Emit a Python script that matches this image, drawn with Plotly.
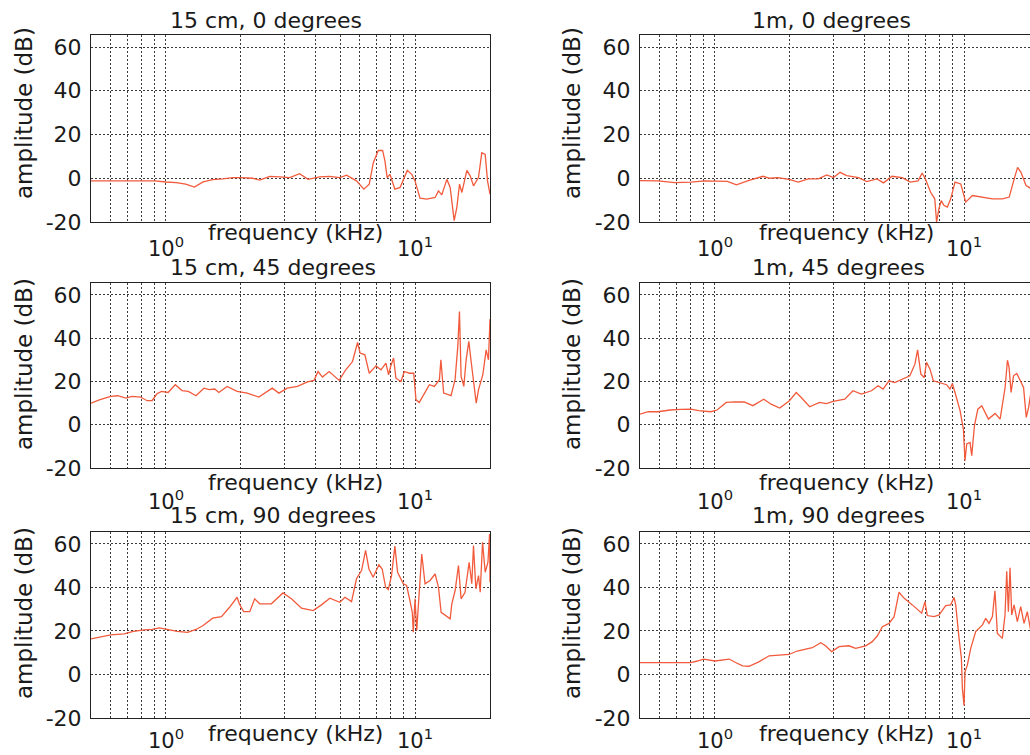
import numpy as np
import plotly.graph_objects as go

W, H = 1030, 755

# ---------------- data (frequency in kHz, amplitude in dB) ----------------
f_15cm_0 = [0.50, 0.60, 0.70, 0.80, 0.90, 1.00, 1.10, 1.20, 1.30, 1.41, 1.54, 1.69, 1.86, 2.00, 2.23,
            2.38, 2.61, 2.86, 3.14, 3.44, 3.72, 4.14, 4.55, 4.99, 5.31, 5.82, 6.23, 6.55, 6.80, 7.12,
            7.41, 7.57, 7.73, 7.93, 8.30, 8.71, 9.31, 9.70, 10.0, 10.47, 11.14, 12.04, 12.42, 12.81, 13.42,
            13.84, 14.36, 14.72, 15.09, 15.42, 15.75, 16.15, 16.65, 17.17, 17.98, 18.54, 19.13, 19.55, 20.0]
a_15cm_0 = [-1.2, -1.2, -1.2, -1.2, -1.2, -1.7, -2.0, -2.7, -4.0, -1.7, -0.6, -0.3, 0.3, 0.3, 0.0,
            -0.8, 0.9, 0.6, 0.3, 2.1, -0.5, 0.6, 0.9, 0.3, 1.4, -1.2, -5.0, -2.7, 7.1, 12.7,
            12.7, 7.9, 0.3, 1.8, -5.0, -4.2, 3.6, 1.8, -1.2, -9.1, -9.5, -8.8, -5.8, -7.6, -0.5,
            -4.2, -19.4, -13.3, -2.7, -6.5, -2.0, 3.6, 1.1, -3.5, 0.3, 11.7, 10.9, -1.2, -7.3]

f_1m_0 = [0.50, 0.59, 0.69, 0.80, 0.91, 1.02, 1.12, 1.22, 1.36, 1.56, 1.66, 1.79, 2.00, 2.16, 2.37,
          2.60, 2.81, 2.99, 3.18, 3.38, 3.77, 4.07, 4.47, 4.75, 5.14, 5.64, 6.09, 6.54, 6.79, 7.00,
          7.34, 7.63, 7.76, 7.93, 8.10, 8.30, 8.57, 8.84, 9.20, 9.70, 10.16, 10.81, 11.86, 13.0, 14.28,
          15.19, 15.77, 16.41, 16.93, 17.74, 18.65, 20.0]
a_1m_0 = [-1.1, -1.2, -2.0, -1.8, -1.2, -1.2, -1.4, -3.0, -1.1, 0.9, 0.0, 0.3, -0.6, -1.8, -0.3,
          -0.3, 1.5, 0.3, 2.7, 1.2, 0.3, -1.5, -0.3, -2.1, 0.9, 0.3, -1.8, -1.2, 2.4, -0.3,
          -6.4, -9.4, -20.0, -13.9, -10.2, -12.4, -13.2, -9.4, -1.8, -2.6, -10.9, -7.9, -8.6, -9.4, -9.4,
          -8.6, -1.8, 5.0, 2.7, -3.3, -4.8, -8.0]

f_15cm_45 = [0.50, 0.54, 0.60, 0.64, 0.69, 0.73, 0.79, 0.84, 0.88, 0.92, 0.96, 1.02, 1.09, 1.16, 1.23,
             1.32, 1.42, 1.49, 1.57, 1.63, 1.76, 1.93, 2.12, 2.36, 2.67, 2.84, 3.07, 3.37, 3.70, 3.93,
             4.08, 4.25, 4.52, 4.96, 5.27, 5.61, 5.88, 6.02, 6.29, 6.55, 6.97, 7.30, 7.64, 7.83, 7.98,
             8.20, 8.38, 8.78, 9.06, 9.49, 9.88, 10.09, 10.40, 10.90, 11.42, 11.96, 12.53, 12.70, 13.03, 13.95,
             14.48, 14.85, 15.08, 15.31, 15.70, 16.04, 16.44, 16.80, 17.32, 17.61, 17.99, 18.72, 19.30, 19.72, 20.0]
a_15cm_45 = [10.0, 11.5, 13.1, 13.4, 12.3, 13.1, 12.8, 11.1, 11.2, 14.3, 15.4, 14.9, 18.5, 15.8, 15.4,
             13.4, 16.9, 16.2, 16.5, 14.9, 17.7, 15.4, 14.6, 12.8, 16.9, 14.6, 16.9, 17.7, 19.8, 20.5,
             24.6, 22.0, 24.6, 20.5, 25.4, 29.2, 38.0, 33.1, 32.3, 23.8, 27.2, 25.4, 28.5, 23.1, 26.9,
             30.8, 21.5, 20.0, 24.6, 23.8, 23.8, 11.5, 10.3, 14.3, 18.5, 17.7, 20.8, 30.0, 14.6, 13.4,
             20.8, 36.2, 52.3, 22.3, 17.7, 30.0, 38.5, 29.2, 17.7, 10.0, 16.2, 23.1, 34.6, 30.0, 48.8]

f_1m_45 = [0.50, 0.54, 0.59, 0.66, 0.73, 0.80, 0.86, 0.96, 1.02, 1.11, 1.20, 1.31, 1.42, 1.57, 1.68,
           1.82, 1.99, 2.12, 2.22, 2.40, 2.63, 2.80, 2.98, 3.32, 3.58, 3.87, 4.25, 4.52, 4.73, 5.00,
           5.27, 5.78, 6.06, 6.35, 6.51, 6.71, 6.92, 7.07, 7.30, 7.53, 8.00, 8.51, 8.78, 8.98, 9.20,
           9.64, 9.94, 10.09, 10.25, 10.57, 10.74, 11.01, 11.36, 11.78, 12.53, 13.33, 13.96, 14.62, 14.94, 15.17,
           15.45, 15.80, 16.29, 16.81, 17.34, 17.78, 18.17, 18.60, 20.0]
a_1m_45 = [4.9, 6.0, 6.0, 6.8, 7.1, 7.2, 6.5, 6.0, 6.8, 10.3, 10.6, 10.5, 8.8, 11.8, 9.5,
           7.7, 11.1, 14.9, 12.6, 8.3, 10.3, 9.8, 10.8, 11.8, 15.7, 14.2, 15.7, 18.0, 16.5, 20.3,
           19.5, 21.5, 22.6, 28.0, 34.6, 23.4, 21.8, 28.8, 25.7, 20.3, 19.5, 18.5, 16.5, 19.1, 14.9,
           6.5, -2.0, -16.6, -8.9, -8.2, -14.3, -0.5, 7.2, 8.8, 2.6, 5.2, 2.6, 17.2, 29.8, 26.5,
           14.9, 22.6, 23.7, 20.3, 17.2, 3.4, 8.0, 15.7, 18.0]

f_15cm_90 = [0.50, 0.55, 0.60, 0.68, 0.74, 0.82, 0.88, 0.94, 1.02, 1.11, 1.22, 1.32, 1.41, 1.54, 1.67,
             1.80, 1.93, 1.97, 2.05, 2.17, 2.27, 2.38, 2.65, 2.95, 3.19, 3.50, 3.90, 4.21, 4.55, 4.99,
             5.23, 5.56, 5.82, 6.10, 6.33, 6.53, 6.79, 7.16, 7.38, 7.62, 7.81, 8.05, 8.30, 8.51, 8.97,
             9.25, 9.54, 9.75, 9.84, 10.0, 10.16, 10.47, 10.64, 10.97, 11.49, 12.04, 12.42, 12.73, 13.21, 13.84,
             14.05, 14.49, 14.94, 15.31, 15.88, 16.49, 16.90, 17.17, 17.55, 17.99, 18.27, 18.67, 19.13, 19.62, 19.92,
             20.0]
a_15cm_90 = [16.4, 17.2, 18.2, 18.7, 19.8, 20.5, 20.7, 21.4, 20.5, 19.8, 19.4, 20.7, 22.5, 25.9, 26.6,
             30.9, 35.5, 32.5, 28.9, 28.9, 34.8, 32.5, 32.5, 37.5, 34.8, 30.5, 29.4, 32.0, 35.1, 33.2,
             35.5, 33.5, 44.0, 47.8, 57.0, 48.5, 44.7, 50.4, 48.5, 40.1, 39.0, 45.5, 59.0, 47.0, 41.7,
             40.9, 34.0, 28.6, 19.4, 34.8, 20.2, 43.2, 55.4, 41.7, 43.2, 46.2, 40.1, 28.6, 27.4, 25.6,
             32.5, 38.6, 50.1, 34.8, 37.8, 51.6, 41.7, 59.3, 39.4, 45.5, 37.8, 60.8, 47.0, 51.6, 64.6,
             42.4]

f_1m_90 = [0.50, 0.59, 0.80, 0.85, 0.90, 1.00, 1.14, 1.21, 1.29, 1.37, 1.50, 1.65, 1.81, 1.98, 2.14,
           2.31, 2.46, 2.66, 2.78, 2.94, 3.15, 3.45, 3.67, 4.03, 4.28, 4.49, 4.70, 5.00, 5.24, 5.48,
           5.74, 6.20, 6.76, 6.97, 7.12, 7.58, 7.94, 8.44, 8.84, 9.12, 9.26, 9.55, 9.76, 9.85, 10.0,
           10.09, 10.31, 10.64, 11.14, 11.86, 12.22, 12.60, 13.00, 13.31, 13.61, 14.25, 14.61, 14.84, 15.07, 15.30,
           15.54, 15.88, 16.37, 16.89, 17.42, 17.95, 18.50]
a_1m_90 = [5.5, 5.5, 5.5, 6.2, 7.1, 6.2, 7.1, 5.5, 4.0, 3.8, 5.8, 8.6, 8.9, 9.2, 10.8,
           11.7, 12.3, 14.6, 13.2, 10.5, 12.8, 13.2, 12.0, 13.2, 15.1, 17.8, 22.0, 23.5, 26.6, 37.8,
           35.1, 32.0, 28.2, 33.5, 27.1, 26.6, 27.4, 31.7, 32.0, 35.4, 32.0, 16.6, 7.4, -6.5, -14.2,
           1.2, 4.3, 12.0, 19.7, 22.8, 25.8, 23.5, 26.6, 38.5, 18.9, 16.6, 27.4, 47.4, 28.9, 49.0,
           27.4, 32.0, 24.3, 31.2, 23.5, 28.9, 20.5]

titles = ["15 cm, 0 degrees", "1m, 0 degrees",
          "15 cm, 45 degrees", "1m, 45 degrees",
          "15 cm, 90 degrees", "1m, 90 degrees"]
series = [(f_15cm_0, a_15cm_0), (f_1m_0, a_1m_0),
          (f_15cm_45, a_15cm_45), (f_1m_45, a_1m_45),
          (f_15cm_90, a_15cm_90), (f_1m_90, a_1m_90)]

grid_freqs = [0.5, 0.6, 0.7, 0.8, 0.9, 1, 2, 3, 4, 5, 6, 7, 8, 9, 10, 20]
y_ticks = [-20, 0, 20, 40, 60]
x_label = "frequency (kHz)"
y_label = "amplitude (dB)"

# ---------------- layout geometry (pixels) ----------------
col_px = [(91, 490), (640, 1030)]
row_px = [(35, 222), (283, 468), (532, 718)]
title_x = [168, 750]
title_y = [20, 267, 515]
xlab_x = [295, 846]
xlab_y = [233, 482, 733]
ylab_x = [24, 572]
ylab_y = [113, 364, 613]
tick_y = [247, 500, 739]

FONT = "DejaVu Sans"
TXT = "#1a1a1a"
LINE = "#f25a3c"
GRID = "#3a3a3a"

lo = np.log10(0.5)
hi = np.log10(20)
pxdec = (col_px[0][1] - col_px[0][0]) / (hi - lo)
x_ranges = [[lo, hi], [lo, lo + (col_px[1][1] - col_px[1][0]) / pxdec]]


def px_x(x):
    return x / W


def px_y(y):
    return 1 - y / H


fig = go.Figure()
annotations = []
layout = dict(width=W, height=H, autosize=False,
              margin=dict(l=0, r=0, t=0, b=0, pad=0, autoexpand=False),
              paper_bgcolor="white", plot_bgcolor="white",
              showlegend=False,
              font=dict(family=FONT, color=TXT, size=19))

for i, ((fx, ay), title) in enumerate(zip(series, titles)):
    r, c = divmod(i, 2)
    k = i + 1
    xa = "x" if k == 1 else f"x{k}"
    ya = "y" if k == 1 else f"y{k}"
    fig.add_trace(go.Scatter(x=fx, y=ay, mode="lines", xaxis=xa, yaxis=ya,
                             line=dict(color=LINE, width=1.3), hoverinfo="skip"))
    x0, x1 = col_px[c]
    yt, yb = row_px[r]
    layout["xaxis" if k == 1 else f"xaxis{k}"] = dict(
        type="log", domain=[px_x(x0), px_x(x1)], range=x_ranges[c], anchor=ya,
        tickvals=grid_freqs, showticklabels=False, ticks="", automargin=False,
        showgrid=True, gridcolor=GRID, gridwidth=1, griddash="2px,2px",
        showline=True, linecolor="#222", linewidth=1, mirror=True, zeroline=False,
        fixedrange=True)
    layout["yaxis" if k == 1 else f"yaxis{k}"] = dict(
        domain=[px_y(yb), px_y(yt)], range=[-20, 65.5], anchor=xa,
        tickvals=y_ticks, ticktext=[str(v) for v in y_ticks], ticks="", automargin=False,
        tickfont=dict(size=22, family=FONT, color=TXT), ticklabelstandoff=4,
        showgrid=True, gridcolor=GRID, gridwidth=1, griddash="2px,2px",
        showline=True, linecolor="#222", linewidth=1, mirror=(c == 0), zeroline=False,
        fixedrange=True)
    # title
    annotations.append(dict(text=title, xref="paper", yref="paper",
                            x=px_x(title_x[c]), y=px_y(title_y[r]),
                            xanchor="left", yanchor="middle", showarrow=False,
                            font=dict(size=22, family=FONT, color=TXT)))
    # x label
    annotations.append(dict(text=x_label, xref="paper", yref="paper",
                            x=px_x(xlab_x[c]), y=px_y(xlab_y[r]),
                            xanchor="center", yanchor="middle", showarrow=False,
                            font=dict(size=22, family=FONT, color=TXT)))
    # y label
    annotations.append(dict(text=y_label, xref="paper", yref="paper",
                            x=px_x(ylab_x[c]), y=px_y(ylab_y[r]), textangle=-90,
                            xanchor="center", yanchor="middle", showarrow=False,
                            font=dict(size=23, family=FONT, color=TXT)))
    # decade tick labels
    for dec, lab in [(1, "10<sup>0</sup>"), (10, "10<sup>1</sup>")]:
        annotations.append(dict(text=lab, xref=xa, yref="paper",
                                x=np.log10(dec), y=px_y(tick_y[r]),
                                xanchor="center", yanchor="middle", showarrow=False,
                                font=dict(size=21, family=FONT, color=TXT)))

layout["annotations"] = annotations
fig.update_layout(**layout)
fig.write_html("out.html")
